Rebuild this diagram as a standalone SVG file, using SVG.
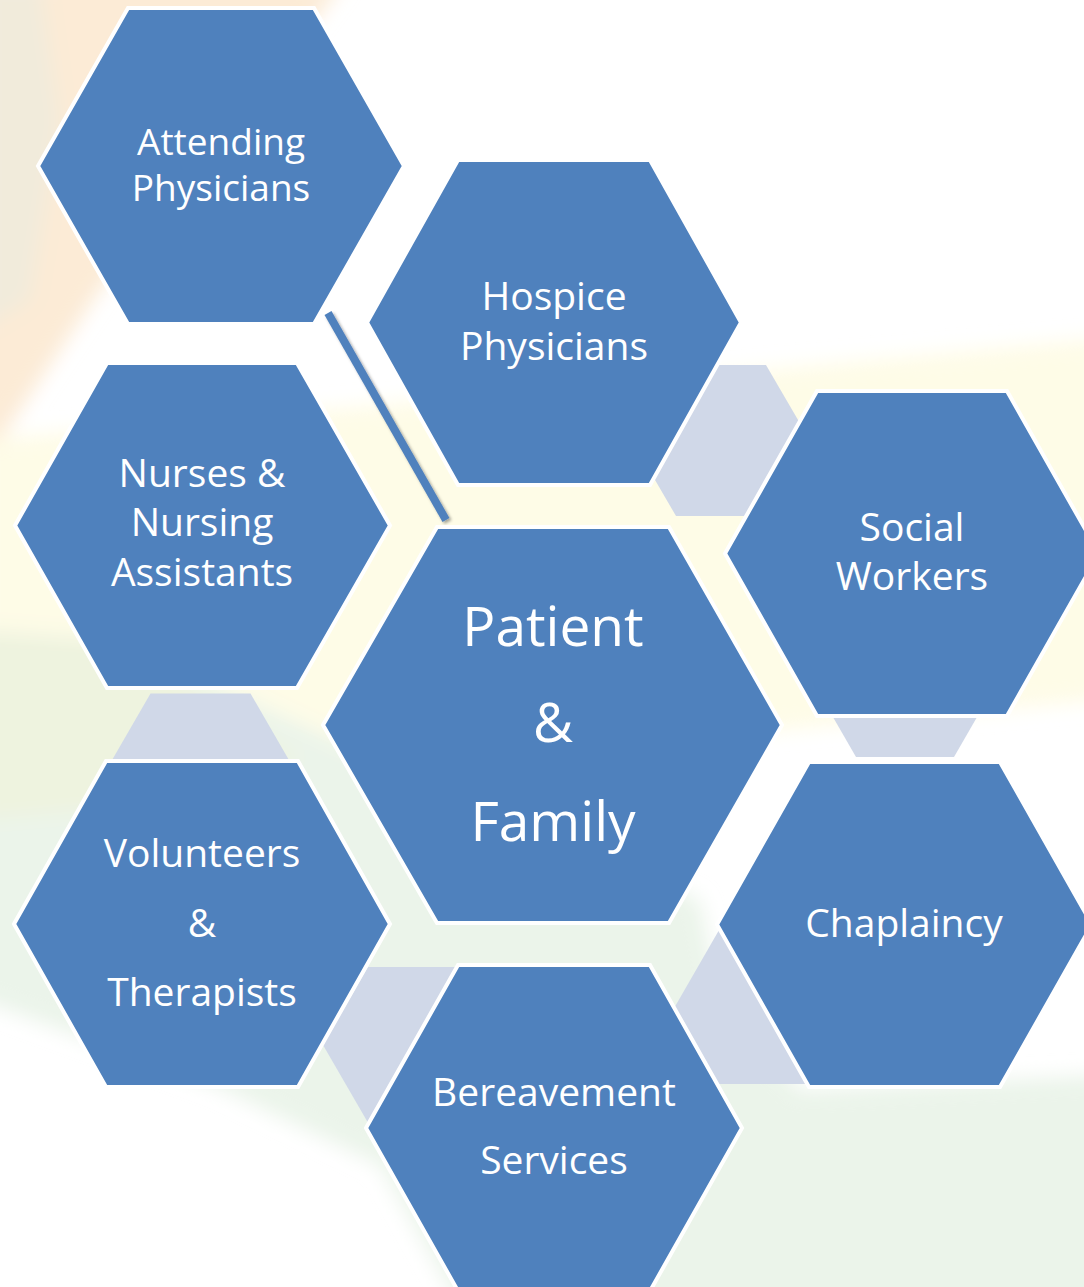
<svg xmlns="http://www.w3.org/2000/svg" width="1084" height="1287" viewBox="0 0 1084 1287">
<defs>
<style>
.hex{fill:#4F81BD;stroke:#FFFFFF;stroke-width:4;stroke-linejoin:miter}
.link{fill:#D0D8E8;stroke:none}
.t{font-family:"Open Sans","Noto Sans","DejaVu Sans",sans-serif;fill:#FFFFFF;text-anchor:middle;font-size:39px}
</style>
<filter id="soft" x="-20%" y="-20%" width="140%" height="140%"><feGaussianBlur stdDeviation="10"/></filter>
<filter id="sh" x="-20%" y="-20%" width="140%" height="140%"><feDropShadow dx="2" dy="2" stdDeviation="1.5" flood-color="#000000" flood-opacity="0.35"/></filter>
</defs>
<g id="background">
<rect x="0" y="0" width="1084" height="1287" fill="#FFFFFF"/>
<g filter="url(#soft)">
<polygon points="-20,-20 345,-20 300,40 100,290 0,440 -20,440" fill="#FCEBD6"/>
<polygon points="-20,-20 40,-20 60,120 30,300 -20,330" fill="#F1EBDB"/>
<polygon points="-20,440 740,372 1104,338 1104,700 780,730 400,770 120,640 -20,630" fill="#FEFCE7"/>
<polygon points="-20,630 120,640 400,770 700,900 720,1000 800,1090 1104,1075 1104,1307 460,1307 380,1165 220,1088 -20,1000" fill="#EBF4EA"/>
<polygon points="-20,630 120,640 300,760 200,800 -20,820" fill="#EEF3DF"/>
</g>
</g>
<g id="connectors">
<polygon class="link" points="632,440.5 676,365 766,365 810,440.5 766,516 676,516"/>
<polygon class="link" points="100.5,780 150.5,693.5 250.5,693.5 300.5,780 250.5,866 150.5,866"/>
<polygon class="link" points="807,672 856,587 954,587 1003,672 954,757 856,757"/>
<polygon class="link" points="730,911 830,911 880,998 830,1084 690,1084 673,1010"/>
<polygon class="link" points="368,967 490,967 540,1053 490,1140 378,1140 323,1045"/>
<line x1="328" y1="313" x2="446" y2="520" stroke="#4F81BD" stroke-width="8" filter="url(#sh)"/>
</g>
<g id="attending">
<polygon class="hex" points="38,166 128,8 314,8 404,166 314,324 128,324"/>
<text class="t" style="font-size:37px"><tspan x="221" y="155">Attending</tspan><tspan x="221" y="201">Physicians</tspan></text>
</g>
<g id="hospice">
<polygon class="hex" points="367,322.5 458,160 650,160 741,322.5 650,485 458,485"/>
<text class="t"><tspan x="554" y="310">Hospice</tspan><tspan x="554" y="360">Physicians</tspan></text>
</g>
<g id="nurses">
<polygon class="hex" points="15,525.5 107,363 297,363 390,525.5 297,688 107,688"/>
<text class="t"><tspan x="202" y="487">Nurses &amp;</tspan><tspan x="202" y="536">Nursing</tspan><tspan x="202" y="586">Assistants</tspan></text>
</g>
<g id="social">
<polygon class="hex" points="725,553.5 817,391 1007,391 1099,553.5 1007,716 817,716"/>
<text class="t"><tspan x="912" y="541">Social</tspan><tspan x="912" y="590">Workers</tspan></text>
</g>
<g id="patient">
<polygon class="hex" points="323,725 437,527 669,527 782,725 669,923 437,923"/>
<text class="t" style="font-size:55px"><tspan x="553" y="646">Patient</tspan><tspan x="553" y="742">&amp;</tspan><tspan x="553" y="841">Family</tspan></text>
</g>
<g id="volunteers">
<polygon class="hex" points="14,924 106,761 298,761 390,924 298,1087 106,1087"/>
<text class="t"><tspan x="202" y="867">Volunteers</tspan><tspan x="202" y="937">&amp;</tspan><tspan x="202" y="1006">Therapists</tspan></text>
</g>
<g id="chaplaincy">
<polygon class="hex" points="717,924.5 809,762 1000,762 1092,924.5 1000,1087 809,1087"/>
<text class="t"><tspan x="904" y="937">Chaplaincy</tspan></text>
</g>
<g id="bereavement">
<polygon class="hex" points="366,1128 458,965 650,965 742,1128 650,1291 458,1291"/>
<text class="t"><tspan x="554" y="1106">Bereavement</tspan><tspan x="554" y="1174">Services</tspan></text>
</g>
</svg>
